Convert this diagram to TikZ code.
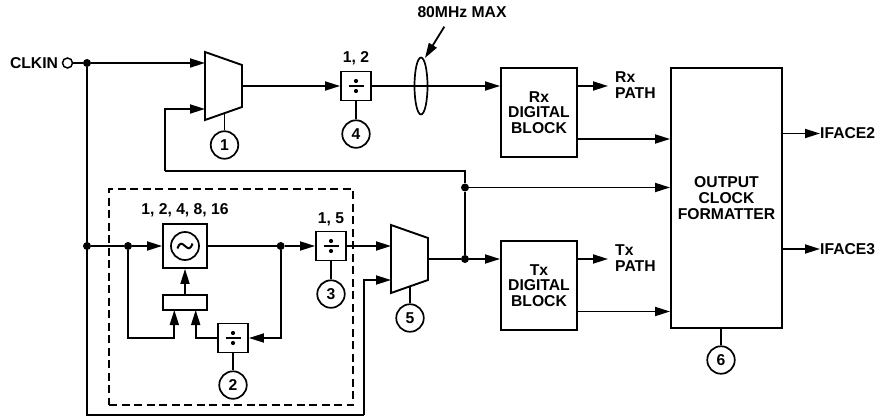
\documentclass[tikz,border=0pt]{standalone}
\usepackage{fontspec}
\setmainfont{Liberation Sans}
\usepackage{tikz}
\usetikzlibrary{arrows.meta,positioning,shapes.geometric}
\newcommand{\muxbody}[1]{\draw[line width=1.9pt] (#1.north west) -- ([yshift=-13pt]#1.north east) -- ([yshift=13pt]#1.south east) -- (#1.south west) -- cycle;}

\begin{document}
\begin{tikzpicture}[
        x=1pt, y=-1pt,
        every node/.style={font=\fontsize{15.7}{15.7}\selectfont\bfseries},
        block/.style={draw, line width=1.9pt, align=center, inner sep=0pt},
        divbox/.style={block, minimum width=30pt, minimum height=29pt, path picture={
            \draw[line width=1.4pt] ([xshift=-7.5pt]path picture bounding box.center) -- ([xshift=7.5pt]path picture bounding box.center);
            \fill ([yshift=5pt]path picture bounding box.center) circle (2.1pt);
            \fill ([yshift=-5pt]path picture bounding box.center) circle (2.1pt);}},
        tag/.style={draw, circle, line width=1.7pt, minimum size=27.5pt, inner sep=0pt},
        mux/.style={minimum width=37pt, minimum height=68pt, inner sep=0pt, outer sep=0pt},
        dot/.style={circle, fill, inner sep=0pt, minimum size=8pt},
        plain/.style={inner sep=0pt, align=left},
        wire/.style={line width=1.8pt},
        arrow/.style={wire, -{Triangle[length=15pt, width=9pt]}}
    ]
    \useasboundingbox (0,0) rectangle (880,417);

    % top row
    \node[plain] (clkin) at (34,63) {CLKIN};
    \node[draw, circle, line width=1.5pt, minimum size=10pt, inner sep=0pt] (pin) at (67.5,63) {};
    \node[dot] (j1) at (87,63) {};
    \node[mux] (mux1) at (223.5,86) {};
    \muxbody{mux1}
    \node[divbox] (div4) at (356,86) {};
    \node[plain] (lab4) at (356,58) {1, 2};
    \node[tag, below=18pt of div4] (c4) {4};
    \node[tag] (c1) at (224.5,145) {1};
    \node[draw, ellipse, line width=1.7pt, minimum width=13pt, minimum height=57pt, inner sep=0pt] (bus) at (421,86) {};
    \node[plain] (lab80) at (462,12.5) {80MHz MAX};
    \coordinate (busfrom) at (444.3,26.7);
    \coordinate (busto) at (425,58);
    \node[block, minimum width=76pt, minimum height=89pt] (rx) at (539,112.5) {Rx\\DIGITAL\\BLOCK};
    \node[block, minimum width=76pt, minimum height=89pt] (tx) at (539,285.5) {Tx\\DIGITAL\\BLOCK};
    \node[block, minimum width=111pt, minimum height=260pt] (fmt) at (726.5,198) {OUTPUT\\CLOCK\\FORMATTER};
    \node[tag] (c6) at (721,360) {6};

    % output labels
    \node[plain, anchor=west] (rxpath) at (615,85) {Rx\\PATH};
    \node[plain, anchor=west] (txpath) at (615,258) {Tx\\PATH};
    \node[plain, anchor=west] (if2) at (820,133.5) {IFACE2};
    \node[plain, anchor=west] (if3) at (820,249) {IFACE3};

    % lower section
    \node[draw, line width=1.6pt, dash pattern=on 8pt off 4.5pt, minimum width=244pt, minimum height=216pt, inner sep=0pt] (pll) at (231,297) {};
    \node[dot] (j2) at (87,246) {};
    \node[dot] (j3) at (128,246) {};
    \node[block, minimum width=44pt, minimum height=44pt] (vco) at (185,246) {};
    \node[draw, circle, line width=1.7pt, minimum size=28pt, inner sep=0pt] (osc) at (185,246) {};
    \node[plain] (labvco) at (185,210) {1, 2, 4, 8, 16};
    \node[block, minimum width=44pt, minimum height=15.5pt] (pfd) at (185,302.5) {};
    \node[divbox] (div2) at (233,338) {};
    \node[tag, below=17pt of div2] (c2) {2};
    \node[dot] (j4) at (280.7,246) {};
    \node[divbox] (div3) at (331,246) {};
    \node[plain] (lab3) at (331,219) {1, 5};
    \node[tag, below=18pt of div3] (c3) {3};
    \node[mux] (mux2) at (409.5,259) {};
    \muxbody{mux2}
    \node[tag] (c5) at (410,318) {5};
    \node[dot] (j5) at (465,187.5) {};
    \node[dot] (j6) at (465,259) {};
    \coordinate (bot1) at (87,415);
    \coordinate (bot2) at (364.3,415);
    \coordinate (fb1) at (165,171);
    \coordinate (fb2) at (465,171);

    \draw[line width=2pt] (osc.center) ++(-7.5,2.5) .. controls +(2.5,-7) and +(-3,-2.5) .. ++(7.5,-2.5) .. controls +(3,2.5) and +(-2.5,7) .. ++(7.5,-2.5);

    % clock paths
    \draw[wire] (pin) -- (j1);
    \draw[arrow] (j1) -- (j1 -| mux1.west);
    \draw[wire] (j1) -- (bot1) -- (bot2);
    \draw[arrow] (bot2) |- (mux2.west |- 0,280);
    \draw[arrow] (mux1.east) -- (div4);
    \draw[arrow] (div4) -- (rx.west |- div4);
    \draw[arrow] (busfrom) -- (busto);
    \draw[wire] (j2) -- (j3);
    \draw[arrow] (j3) -- (vco);
    \draw[wire] (vco) -- (j4);
    \draw[arrow] (j4) -- (div3);
    \draw[arrow] (div3) -- (div3 -| mux2.west);
    \draw[wire] (mux2.east) -- (j6);
    \draw[arrow] (j6) -- (tx.west |- j6);
    \draw[wire] (j6) -- (j5) -- (fb2) -- (fb1);
    \draw[arrow] (fb1) |- (mux1.west |- 0,109);
    \draw[arrow] (j5) -- (j5 -| fmt.west);
    \draw[arrow] (pfd) -- (vco);
    \draw[arrow] (j3) |- (174.3,338) -- (174.3,310);
    \draw[arrow] (div2) -| (195.7,310);
    \draw[arrow] (j4) |- (div2);

    % outputs
    \draw[arrow] (rx.east |- 0,86) -- (608,86);
    \draw[arrow] (tx.east |- 0,259) -- (608,259);
    \draw[arrow] (rx.east |- 0,139) -- (fmt.west |- 0,139);
    \draw[arrow] (tx.east |- 0,311.5) -- (fmt.west |- 0,311.5);
    \draw[arrow] (fmt.east |- if2) -- (if2.west);
    \draw[arrow] (fmt.east |- if3) -- (if3.west);

    % control tags
    \draw[wire] (c1) -- ([yshift=6.5pt]c1 |- mux1.south);
    \draw[wire] (c4) -- (div4);
    \draw[wire] (c3) -- (div3);
    \draw[wire] (c2) -- (div2);
    \draw[wire] (c5) -- ([yshift=6.5pt]c5 |- mux2.south);
    \draw[wire] (c6) -- (c6 |- fmt.south);
\end{tikzpicture}
\end{document}
